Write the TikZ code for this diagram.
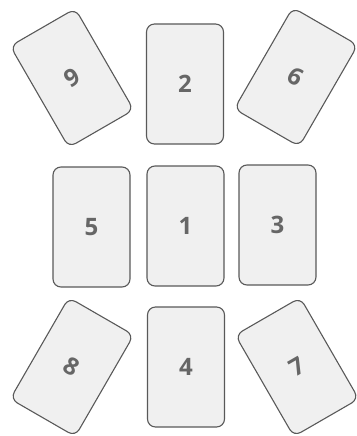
\documentclass[tikz,border=0pt]{standalone}
\usepackage{fontspec}
\setsansfont{Open Sans}

\begin{document}
\begin{tikzpicture}[x=1pt,y=-1pt,
  card/.style={draw=gray!70!black,fill=gray!12,line width=1.1pt,rounded corners=8pt,
    minimum width=77pt,minimum height=120pt,inner sep=0pt,
    font=\sffamily\bfseries\fontsize{24}{24}\selectfont,text=gray!80!black},
  tilted/.style={card,minimum width=75pt,minimum height=117pt,rotate=#1}]
\useasboundingbox (0,0) rectangle (356,436);
% ================= top row =================
\node[tilted=30]  (card9) at (72,78)  {9};
\node[card]       (card2) at (185,84) {2};
\node[tilted=-30] (card6) at (296,77) {6};
% ================= middle row =================
\node[card] (card5) at (91.5,227)  {5};
\node[card] (card1) at (185.5,226) {1};
\node[card] (card3) at (277.5,225) {3};
% ================= bottom row =================
\node[tilted=-30] (card8) at (72,367)  {8};
\node[card]       (card4) at (186,367) {4};
\node[tilted=30]  (card7) at (297,367) {7};
\end{tikzpicture}
\end{document}
